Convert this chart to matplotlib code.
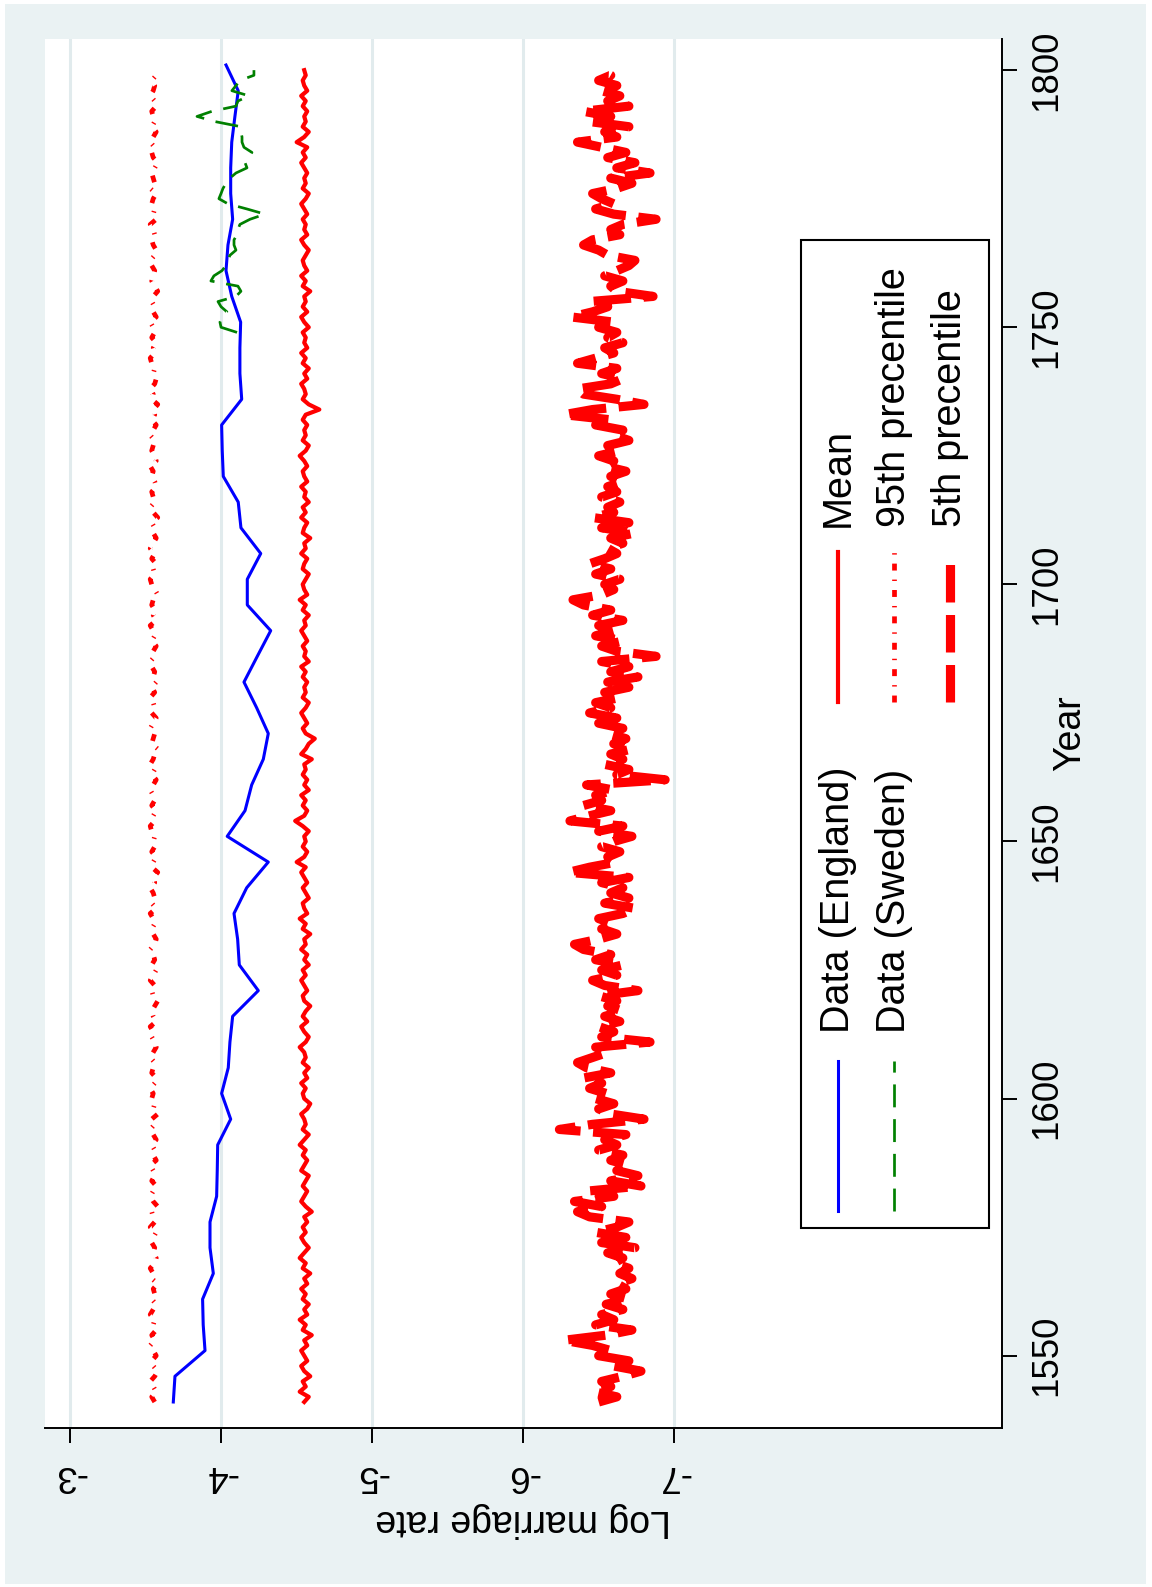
import matplotlib
matplotlib.use('Agg')
import matplotlib.pyplot as plt
from matplotlib.lines import Line2D
from matplotlib.patches import Rectangle

plt.rcParams['font.family'] = ['Liberation Sans', 'DejaVu Sans']
plt.rcParams['lines.scale_dashes'] = False

W, H = 1152, 1587
BG = '#EAF2F3'

##Data##
eng_years = list(range(1541, 1802, 5))
eng_rate = [-3.683, -3.694, -3.893, -3.881, -3.877, -3.948, -3.926, -3.926, -3.970, -3.974,
            -3.977, -4.063, -4.003, -4.047, -4.058, -4.076, -4.246, -4.120, -4.109, -4.085,
            -4.169, -4.312, -4.040, -4.158, -4.202, -4.279, -4.312, -4.235, -4.151, -4.239,
            -4.328, -4.173, -4.173, -4.262, -4.131, -4.113, -4.014, -4.007, -4.003, -4.136,
            -4.124, -4.124, -4.129, -4.070, -4.032, -4.045, -4.076, -4.063, -4.063, -4.070,
            -4.091, -4.113, -4.032]

swe_years = list(range(1749, 1801))
swe_rate = [-4.105, -3.999, -3.992, -4.005, -4.038, -3.999, -3.979, -4.098, -4.131, -4.111,
            -3.932, -3.952, -4.005, -4.032, -4.045, -4.058, -4.098, -4.085, -4.085, -4.105,
            -4.111, -4.124, -4.191, -4.290, -4.171, -4.045, -3.985, -3.999, -4.012, -4.032,
            -4.058, -4.098, -4.171, -4.158, -4.178, -4.204, -4.151, -4.138, -4.138, -4.131,
            -4.131, -3.959, -3.840, -3.939, -4.098, -4.111, -4.184, -4.071, -4.098, -4.124,
            -4.217, -4.217]

sim_years = list(range(1541, 1801))
sim_mean = [-4.55, -4.58, -4.52, -4.56, -4.54, -4.59, -4.55, -4.53, -4.57, -4.55,
            -4.53, -4.57, -4.55, -4.60, -4.54, -4.56, -4.52, -4.57, -4.55, -4.58,
            -4.54, -4.56, -4.53, -4.57, -4.55, -4.59, -4.54, -4.56, -4.52, -4.55,
            -4.58, -4.55, -4.53, -4.56, -4.54, -4.57, -4.55, -4.60, -4.56, -4.53,
            -4.55, -4.57, -4.54, -4.56, -4.58, -4.53, -4.55, -4.57, -4.54, -4.56,
            -4.52, -4.55, -4.58, -4.54, -4.56, -4.55, -4.53, -4.57, -4.59, -4.55,
            -4.54, -4.56, -4.53, -4.57, -4.55, -4.58, -4.54, -4.56, -4.55, -4.52,
            -4.56, -4.58, -4.55, -4.53, -4.57, -4.54, -4.56, -4.59, -4.55, -4.54,
            -4.57, -4.55, -4.53, -4.56, -4.54, -4.58, -4.55, -4.57, -4.53, -4.56,
            -4.55, -4.59, -4.54, -4.56, -4.52, -4.57, -4.55, -4.54, -4.58, -4.56,
            -4.54, -4.57, -4.55, -4.53, -4.56, -4.50, -4.55, -4.57, -4.54, -4.56,
            -4.55, -4.58, -4.54, -4.49, -4.55, -4.57, -4.54, -4.56, -4.53, -4.58,
            -4.55, -4.57, -4.54, -4.56, -4.55, -4.60, -4.53, -4.56, -4.58, -4.62,
            -4.56, -4.54, -4.57, -4.55, -4.53, -4.56, -4.58, -4.54, -4.56, -4.55,
            -4.57, -4.54, -4.56, -4.53, -4.58, -4.55, -4.56, -4.54, -4.57, -4.55,
            -4.53, -4.56, -4.55, -4.58, -4.54, -4.56, -4.52, -4.57, -4.55, -4.54,
            -4.56, -4.58, -4.54, -4.55, -4.57, -4.53, -4.56, -4.55, -4.59, -4.54,
            -4.55, -4.57, -4.53, -4.56, -4.54, -4.58, -4.55, -4.56, -4.53, -4.57,
            -4.55, -4.54, -4.57, -4.55, -4.52, -4.56, -4.58, -4.54, -4.56, -4.55,
            -4.57, -4.54, -4.56, -4.65, -4.58, -4.54, -4.56, -4.55, -4.53, -4.57,
            -4.55, -4.58, -4.54, -4.56, -4.53, -4.57, -4.55, -4.56, -4.54, -4.58,
            -4.55, -4.53, -4.57, -4.54, -4.56, -4.55, -4.59, -4.54, -4.56, -4.53,
            -4.57, -4.55, -4.54, -4.56, -4.58, -4.55, -4.53, -4.57, -4.55, -4.56,
            -4.54, -4.57, -4.55, -4.53, -4.56, -4.58, -4.54, -4.56, -4.55, -4.57,
            -4.55, -4.53, -4.56, -4.54, -4.57, -4.50, -4.55, -4.58, -4.54, -4.56,
            -4.55, -4.57, -4.54, -4.56, -4.53, -4.57, -4.55, -4.54, -4.56, -4.55]

sim_p95 = [-3.56, -3.54, -3.57, -3.55, -3.53, -3.56, -3.58, -3.55, -3.54, -3.57,
           -3.55, -3.53, -3.56, -3.54, -3.57, -3.55, -3.56, -3.53, -3.55, -3.57,
           -3.54, -3.56, -3.55, -3.58, -3.54, -3.55, -3.53, -3.56, -3.57, -3.55,
           -3.56, -3.54, -3.55, -3.57, -3.53, -3.56, -3.55, -3.54, -3.58, -3.55,
           -3.53, -3.55, -3.57, -3.54, -3.56, -3.55, -3.53, -3.57, -3.55, -3.56,
           -3.54, -3.57, -3.55, -3.53, -3.56, -3.54, -3.58, -3.55, -3.56, -3.54,
           -3.55, -3.53, -3.56, -3.57, -3.54, -3.55, -3.56, -3.53, -3.55, -3.57,
           -3.56, -3.54, -3.55, -3.53, -3.57, -3.55, -3.54, -3.56, -3.58, -3.55,
           -3.54, -3.56, -3.53, -3.55, -3.57, -3.54, -3.56, -3.55, -3.53, -3.56,
           -3.57, -3.55, -3.54, -3.56, -3.55, -3.53, -3.57, -3.54, -3.56, -3.55,
           -3.53, -3.56, -3.55, -3.58, -3.54, -3.55, -3.57, -3.54, -3.56, -3.55,
           -3.56, -3.54, -3.53, -3.56, -3.55, -3.57, -3.54, -3.56, -3.55, -3.53,
           -3.55, -3.57, -3.54, -3.56, -3.53, -3.55, -3.56, -3.58, -3.54, -3.55,
           -3.56, -3.53, -3.55, -3.57, -3.54, -3.56, -3.55, -3.53, -3.56, -3.54,
           -3.57, -3.55, -3.56, -3.54, -3.53, -3.56, -3.55, -3.57, -3.54, -3.56,
           -3.55, -3.53, -3.57, -3.55, -3.56, -3.54, -3.55, -3.58, -3.56, -3.54,
           -3.53, -3.56, -3.55, -3.57, -3.54, -3.56, -3.53, -3.55, -3.57, -3.55,
           -3.56, -3.54, -3.58, -3.55, -3.53, -3.56, -3.55, -3.54, -3.57, -3.56,
           -3.54, -3.55, -3.53, -3.57, -3.56, -3.54, -3.55, -3.56, -3.53, -3.55,
           -3.57, -3.54, -3.56, -3.55, -3.58, -3.54, -3.55, -3.53, -3.56, -3.57,
           -3.55, -3.56, -3.54, -3.53, -3.56, -3.55, -3.57, -3.54, -3.56, -3.55,
           -3.53, -3.57, -3.55, -3.56, -3.54, -3.55, -3.58, -3.56, -3.54, -3.55,
           -3.56, -3.54, -3.53, -3.56, -3.57, -3.55, -3.54, -3.56, -3.55, -3.53,
           -3.57, -3.55, -3.56, -3.54, -3.55, -3.57, -3.53, -3.56, -3.55, -3.54,
           -3.56, -3.58, -3.55, -3.54, -3.56, -3.53, -3.55, -3.57, -3.54, -3.56,
           -3.55, -3.54, -3.57, -3.56, -3.53, -3.55, -3.56, -3.54, -3.57, -3.55]

sim_p5 = [-6.50, -6.62, -6.47, -6.58, -6.52, -6.66, -6.78, -6.60, -6.70, -6.50,
          -6.58, -6.46, -6.27, -6.55, -6.72, -6.48, -6.60, -6.52, -6.66, -6.55,
          -6.70, -6.58, -6.68, -6.62, -6.72, -6.64, -6.70, -6.60, -6.66, -6.56,
          -6.74, -6.52, -6.68, -6.48, -6.62, -6.70, -6.44, -6.36, -6.52, -6.34,
          -6.60, -6.42, -6.78, -6.58, -6.76, -6.62, -6.70, -6.58, -6.66, -6.50,
          -6.62, -6.54, -6.68, -6.24, -6.46, -6.80, -6.58, -6.50, -6.60, -6.48,
          -6.55, -6.44, -6.52, -6.40, -6.58, -6.42, -6.36, -6.46, -6.56, -6.48,
          -6.84, -6.52, -6.60, -6.50, -6.64, -6.54, -6.66, -6.56, -6.62, -6.50,
          -6.76, -6.54, -6.46, -6.62, -6.52, -6.66, -6.48, -6.58, -6.40, -6.34,
          -6.50, -6.62, -6.52, -6.60, -6.50, -6.66, -6.74, -6.54, -6.70, -6.58,
          -6.66, -6.52, -6.70, -6.30, -6.44, -6.62, -6.56, -6.64, -6.52, -6.60,
          -6.72, -6.50, -6.66, -6.31, -6.44, -6.58, -6.40, -6.52, -6.48, -6.60,
          -6.42, -6.94, -6.62, -6.70, -6.54, -6.66, -6.58, -6.72, -6.60, -6.68,
          -6.56, -6.66, -6.50, -6.62, -6.44, -6.58, -6.48, -6.64, -6.54, -6.70,
          -6.56, -6.76, -6.58, -6.70, -6.52, -6.88, -6.62, -6.52, -6.66, -6.48,
          -6.60, -6.50, -6.66, -6.46, -6.58, -6.40, -6.33, -6.52, -6.60, -6.54,
          -6.64, -6.48, -6.58, -6.44, -6.54, -6.62, -6.56, -6.66, -6.58, -6.74,
          -6.52, -6.70, -6.46, -6.60, -6.56, -6.64, -6.52, -6.62, -6.56, -6.66,
          -6.58, -6.68, -6.54, -6.60, -6.50, -6.64, -6.56, -6.70, -6.60, -6.66,
          -6.48, -6.58, -6.27, -6.46, -6.80, -6.62, -6.40, -6.36, -6.58, -6.66,
          -6.52, -6.62, -6.36, -6.48, -6.60, -6.54, -6.66, -6.56, -6.62, -6.50,
          -6.60, -6.32, -6.46, -6.56, -6.44, -6.86, -6.62, -6.58, -6.66, -6.54,
          -6.62, -6.70, -6.74, -6.56, -6.50, -6.40, -6.46, -6.64, -6.58, -6.66,
          -6.88, -6.60, -6.48, -6.60, -6.52, -6.46, -6.62, -6.72, -6.58, -6.84,
          -6.62, -6.74, -6.56, -6.68, -6.52, -6.36, -6.62, -6.54, -6.70, -6.44,
          -6.58, -6.40, -6.70, -6.56, -6.64, -6.52, -6.62, -6.50, -6.58, -6.52]

rate_ticks = [-3, -4, -5, -6, -7]
rate_labels = ['-3', '-4', '-5', '-6', '-7']
year_ticks = [1550, 1600, 1650, 1700, 1750, 1800]
legend_labels = ['Data (England)', 'Data (Sweden)', 'Mean', '95th precentile', '5th precentile']

#Line styles (dash lengths in points):
st_eng = dict(color='#0000FF', lw=2.2, ls='-')
st_swe = dict(color='#008000', lw=1.95, ls=(0, (16.5, 8.5)))
st_mean = dict(color='#FF0000', lw=3.0, ls='-')
st_p95 = dict(color='#FF0000', lw=3.4, ls=(0, (5, 6.5, 1, 6.5)))
st_p5 = dict(color='#FF0000', lw=6.6, ls=(0, (27, 9)))

def fx(px):
    return px / W

def fy(py):
    return 1 - py / H

##Figure##
fig = plt.figure(figsize=(W / 100, H / 100), dpi=100, facecolor='white')
fig.add_artist(Rectangle((fx(5), fy(1584)), fx(1146) - fx(5), (1584 - 4) / H,
                         transform=fig.transFigure, facecolor=BG, edgecolor='none', zorder=0))

ax = fig.add_axes([fx(44.5), fy(1427.7), fx(1001.7) - fx(44.5), (1427.7 - 39.3) / H])
ax.set_facecolor('white')

#Series: rate on the horizontal axis, year on the vertical axis
ax.plot(eng_rate, eng_years, **st_eng)
ax.plot(swe_rate, swe_years, **st_swe)
ax.plot(sim_mean, sim_years, **st_mean)
ax.plot(sim_p95, sim_years, **st_p95)
ax.plot(sim_p5, sim_years, **st_p5)

ax.set_xlim(-2.830, -9.169)
ax.set_ylim(1536.0, 1806.0)

#Axes:
for side in ['top', 'left']:
    ax.spines[side].set_visible(False)
for side in ['bottom', 'right']:
    ax.spines[side].set_linewidth(1.4)

ax.set_xticks(rate_ticks)
ax.set_xticklabels(rate_labels)
ax.tick_params(axis='x', direction='out', length=10.8, width=1.4, pad=11,
               labelsize=26.5, labelrotation=180)
ax.yaxis.tick_right()
ax.set_yticks(year_ticks)
ax.set_yticklabels([str(y) for y in year_ticks])
ax.tick_params(axis='y', direction='out', length=10.8, width=1.4, pad=9,
               labelsize=26.5, labelrotation=90)
for lbl in ax.get_yticklabels():
    lbl.set_va('center')

ax.set_axisbelow(True)
ax.grid(axis='x', color='#E1EBED', lw=2.2)
ax.grid(axis='y', visible=False)

fig.text(fx(523), fy(1520), 'Log marriage rate', rotation=180, ha='center', va='center', fontsize=27)
fig.text(fx(1070), fy(733), 'Year', rotation=90, ha='center', va='center', fontsize=27)

##Legend##
fig.add_artist(Rectangle((fx(800.7), fy(1228)), fx(989.3) - fx(800.7), (1228 - 239.6) / H,
                         transform=fig.transFigure, facecolor='white', edgecolor='black',
                         lw=1.5, zorder=5))

key_pos = [(838, 1211, 1061, 1033), (894, 1211, 1061, 1033),
           (838, 702, 552, 527), (894, 702, 552, 527), (950, 702, 552, 527)]
styles = [st_eng, st_swe, st_mean, st_p95, st_p5]
for (kx, yb, yt, ty), lab, st in zip(key_pos, legend_labels, styles):
    fig.add_artist(Line2D([fx(kx), fx(kx)], [fy(yb), fy(yt)], transform=fig.transFigure,
                          zorder=6, **st))
    fig.text(fx(kx), fy(ty), lab, rotation=90, rotation_mode='anchor', ha='left',
             va='center', fontsize=28.5, zorder=6)

fig.savefig('out.png', dpi=100, facecolor='white')
